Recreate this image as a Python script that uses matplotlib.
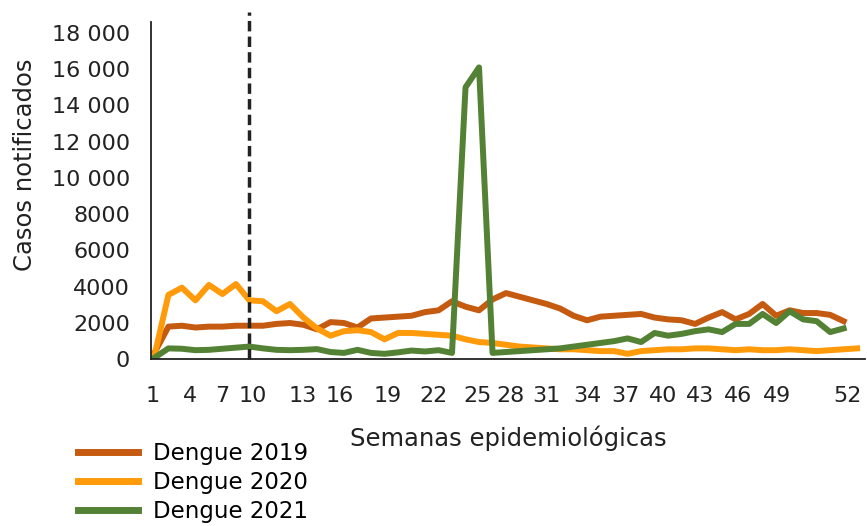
import matplotlib
matplotlib.use("Agg")
from matplotlib import pyplot as plt

# Casos notificados por semana epidemiológica
weeks_2019 = list(range(1, 53))
weeks_2020 = list(range(1, 54))
weeks_2021 = list(range(1, 53))

dengue_2019 = [400, 1800, 1850, 1750, 1800, 1800, 1850, 1850, 1850, 1950,
               2000, 1900, 1650, 2050, 2000, 1750, 2250, 2300, 2350, 2400,
               2600, 2700, 3200, 2900, 2700, 3300, 3650, 3450, 3250, 3050,
               2800, 2400, 2150, 2350, 2400, 2450, 2500, 2300, 2200, 2150,
               1950, 2300, 2600, 2200, 2500, 3050, 2400, 2700, 2550, 2550,
               2450, 2100]
dengue_2020 = [300, 3550, 3950, 3250, 4100, 3600, 4150, 3250, 3200, 2650,
               3050, 2300, 1700, 1300, 1550, 1600, 1500, 1100, 1450, 1450,
               1400, 1350, 1300, 1100, 950, 900, 800, 700, 650, 600,
               550, 550, 500, 450, 450, 300, 450, 500, 550, 550,
               600, 600, 550, 500, 550, 500, 500, 550, 500, 450,
               500, 550, 600]
dengue_2021 = [100, 600, 580, 500, 520, 580, 640, 700, 600, 520,
               500, 520, 560, 400, 350, 520, 350, 300, 380, 480,
               430, 500, 350, 15000, 16100, 350, 400, 450, 500, 550,
               600, 700, 800, 900, 1000, 1150, 950, 1450, 1300, 1400,
               1550, 1650, 1500, 1950, 1950, 2500, 2000, 2650, 2200, 2100,
               1500, 1700]

marker_week = 8  # linea vertical discontinua

y_ticks = [0, 2000, 4000, 6000, 8000, 10000, 12000, 14000, 16000, 18000]
y_labels = ["0", "2000", "4000", "6000", "8000", "10 000", "12 000",
            "14 000", "16 000", "18 000"]
x_labels = ["1", "4", "7", "10", "13", "16", "19", "22", "25", "28", "31",
            "34", "37", "40", "43", "46", "49", "52"]
# the labels in the source image are not evenly placed
x_label_pos = [0.85, 3.6, 5.96, 8.26, 11.96, 14.7, 18.26, 21.6, 24.9, 27.3,
               30.0, 33.0, 35.8, 38.6, 41.4, 44.2, 47.1, 52.3]

c2019 = "#C55A11"
c2020 = "#FF9B0A"
c2021 = "#548235"
txt = "#222222"

fig = plt.figure(figsize=(8.67, 5.26), dpi=100)
ax = fig.add_axes([0.174, 0.317, 0.824, 0.641])

ax.plot(weeks_2019, dengue_2019, color=c2019, lw=4.3, label="Dengue 2019")
ax.plot(weeks_2020, dengue_2020, color=c2020, lw=4.3, label="Dengue 2020")
ax.plot(weeks_2021, dengue_2021, color=c2021, lw=4.3, label="Dengue 2021")
ax.axvline(marker_week, ymax=1.03, color=txt, lw=2.5, ls=(0, (3, 1.5)), clip_on=False)

ax.set_xlim(0.7, 53.6)
ax.set_ylim(0, 18600)
ax.set_yticks(y_ticks)
ax.set_yticklabels(y_labels)
ax.set_xticks(x_label_pos)
ax.set_xticklabels(x_labels)
ax.tick_params(axis="both", length=0, labelsize=16, colors=txt)
ax.tick_params(axis="y", pad=15)
ax.tick_params(axis="x", pad=19)

for s in ["top", "right"]:
    ax.spines[s].set_visible(False)
for s in ["left", "bottom"]:
    ax.spines[s].set_color(txt)
    ax.spines[s].set_linewidth(1.3)

ax.set_ylabel("Casos notificados", fontsize=17.5, color=txt)
ax.yaxis.set_label_coords(-0.16, 0.576)
ax.set_xlabel("Semanas epidemiológicas", fontsize=17.5, color=txt, labelpad=14)

fig.legend(loc="upper left", bbox_to_anchor=(0.09, 0.16), frameon=False,
           fontsize=16.5, handlelength=2.6, handletextpad=0.65,
           labelspacing=0.26, borderpad=0, borderaxespad=0)
for h in fig.legends[0].get_lines():
    h.set_linewidth(5)

fig.savefig("out.png", dpi=100)
